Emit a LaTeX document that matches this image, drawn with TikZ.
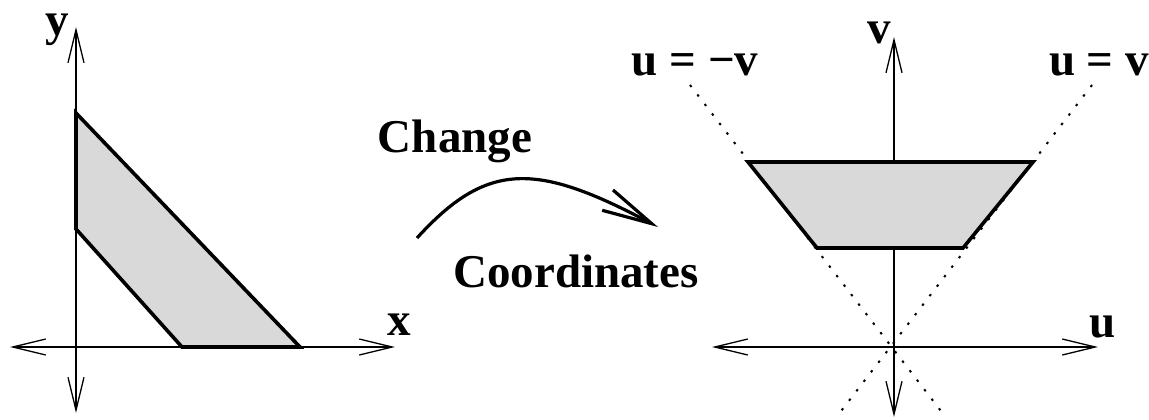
\documentclass[tikz,border=0pt]{standalone}
\usepackage{fontspec}
\setmainfont{Liberation Serif}
\usetikzlibrary{arrows.meta}
\tikzset{
  axis/.style={<->,line width=0.65pt},
  region/.style={draw,fill=gray!30,line width=1.8pt,line join=miter},
  guide/.style={dash pattern=on 1.2pt off 4.8pt,line width=1pt},
  lbl/.style={font=\fontsize{23.5}{28}\selectfont\bfseries,inner sep=0pt,anchor=base},
  >={Straight Barb[length=16.5pt,width=8pt]},
}

\begin{document}
\begin{tikzpicture}[x=0.5pt,y=-0.5pt]
  \useasboundingbox (0,0) rectangle (1149,419);
  \coordinate (xmin) at (10,347);
  \coordinate (xmax) at (395,347);
  \coordinate (ymin) at (76,413);
  \coordinate (ymax) at (76,27);
  \path[axis] (xmin) edge (xmax) (ymin) edge (ymax);
  \draw[region] (76,113) -- (76,229) -- (182,347) -- (300,347) -- cycle;
  \node[lbl] (ylab) at (57,35) {y};
  \node[lbl] (xlab) at (399,335) {x};

  \coordinate (bend0) at (417,238);
  \coordinate (bend1) at (658,227);
  \draw[line width=1.6pt,-{Straight Barb[length=25pt,width=11.5pt]}]
    (bend0) .. controls (487,161) and (536,162) .. (bend1);
  \node[lbl] (change) at (455,152) {Change};
  \node[lbl] (coords) at (576,287) {Coordinates};

  \coordinate (negtop) at (690,85);
  \coordinate (negbot) at (944,415);
  \coordinate (postop) at (1092,85);
  \coordinate (posbot) at (838,415);
  \path[guide] (negtop) edge (negbot) (postop) edge (posbot);
  \coordinate (umin) at (712,347);
  \coordinate (umax) at (1098,347);
  \coordinate (vmin) at (894,417);
  \coordinate (vmax) at (894,37);
  \path[axis] (umin) edge (umax) (vmin) edge (vmax);
  \draw[region] (748,162) -- (1033,162) -- (963,248) -- (817,248) -- cycle;
  \node[lbl] (vlab) at (879,43) {v};
  \node[lbl] (ulab) at (1103,337) {u};
  \node[lbl] (neglab) at (695,75) {u = −v};
  \node[lbl] (poslab) at (1099,75) {u = v};
\end{tikzpicture}
\end{document}
